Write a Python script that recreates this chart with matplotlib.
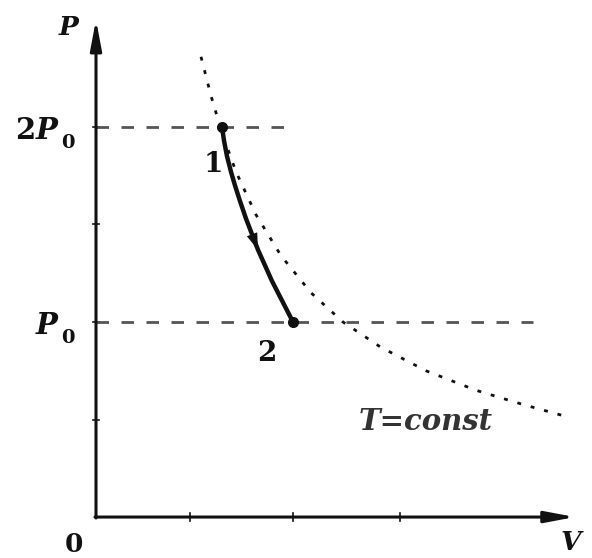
import numpy as np
import matplotlib.pyplot as plt

# levels and axis ticks
p_levels = [2.0, 1.0]
p_ticks = [0.5, 1.0, 1.5, 2.0]
v_ticks = [0.94, 1.97, 3.04]

# isotherm T = const
iso_v = [1.05, 1.15, 1.26, 1.40, 1.60, 1.85, 2.15, 2.47, 2.85, 3.30, 3.80, 4.25, 4.67]
iso_p = [2.36, 2.16, 1.97, 1.77, 1.55, 1.34, 1.15, 1.00, 0.87, 0.75, 0.65, 0.58, 0.52]

# process 1 -> 2
proc_v = [1.26, 1.28, 1.31, 1.35, 1.39, 1.44, 1.50, 1.56, 1.62, 1.69, 1.76, 1.83, 1.90, 1.97]
proc_p = [2.00, 1.93, 1.85, 1.77, 1.70, 1.62, 1.53, 1.45, 1.37, 1.29, 1.21, 1.14, 1.07, 1.00]

# dashed guide line ends
dash_end = [1.97, 4.37]

fig = plt.figure(figsize=(5.92, 5.58), dpi=100)
ax = fig.add_axes([0, 0, 1, 1])
ax.set_xlim(-0.96, 4.96)
ax.set_ylim(-0.21, 2.651)
ax.axis('off')

ink = '#111111'
serif = 'DejaVu Serif'
head = '-|>,head_length=1.8,head_width=0.34'

# axes with arrows
ax.annotate('', xy=(0, 2.55), xytext=(0, -0.005),
            arrowprops=dict(arrowstyle=head, lw=2.2, color=ink, shrinkA=0, shrinkB=0))
ax.annotate('', xy=(4.79, 0), xytext=(-0.01, 0),
            arrowprops=dict(arrowstyle=head, lw=2.2, color=ink, shrinkA=0, shrinkB=0))

for p in p_ticks:
    ax.plot([-0.03, 0.03], [p, p], color=ink, lw=1.2)
for v in v_ticks:
    ax.plot([v, v], [-0.02, 0.02], color=ink, lw=1.2)

# dashed levels
for p, x1 in zip(p_levels, dash_end):
    ax.plot([0, x1], [p, p], color='#555555', lw=2.0, dashes=(4.5, 4.5))

# isotherm
ax.plot(iso_v, iso_p, color=ink, lw=2.0, linestyle=(0, (1.4, 3.6)))

# process curve with arrow
ax.plot(proc_v, proc_p, color=ink, lw=3.2, solid_capstyle='round')
ax.annotate('', xy=(proc_v[8], proc_p[8]), xytext=(proc_v[7], proc_p[7]),
            arrowprops=dict(arrowstyle='-|>,head_length=1.2,head_width=0.4',
                            lw=0, color=ink, shrinkA=0, shrinkB=0))
ax.plot([proc_v[0], proc_v[-1]], [proc_p[0], proc_p[-1]], 'o',
        color=ink, ms=7)

# labels
bold = dict(family=serif, weight='bold', color=ink, va='center')
ax.text(-0.27, 2.51, 'P', fontsize=19, style='italic', ha='center', **bold)
ax.text(-0.81, 1.98, '2', fontsize=21, ha='left', **bold)
ax.text(-0.60, 1.98, 'P', fontsize=21, style='italic', ha='left', **bold)
ax.text(-0.35, 1.92, '0', fontsize=14, ha='left', **bold)
ax.text(-0.60, 0.98, 'P', fontsize=21, style='italic', ha='left', **bold)
ax.text(-0.35, 0.92, '0', fontsize=14, ha='left', **bold)
ax.text(-0.22, -0.14, '0', fontsize=19, ha='center', **bold)
ax.text(4.75, -0.13, 'V', fontsize=19, style='italic', ha='center', **bold)
ax.text(1.17, 1.81, '1', fontsize=20, ha='center', **bold)
ax.text(1.71, 0.84, '2', fontsize=20, ha='center', **bold)
ax.text(3.30, 0.49, 'T=const', fontsize=21, style='italic', ha='center',
        family=serif, weight='bold', color='#333333', va='center')

fig.savefig('out.png', dpi=100)
